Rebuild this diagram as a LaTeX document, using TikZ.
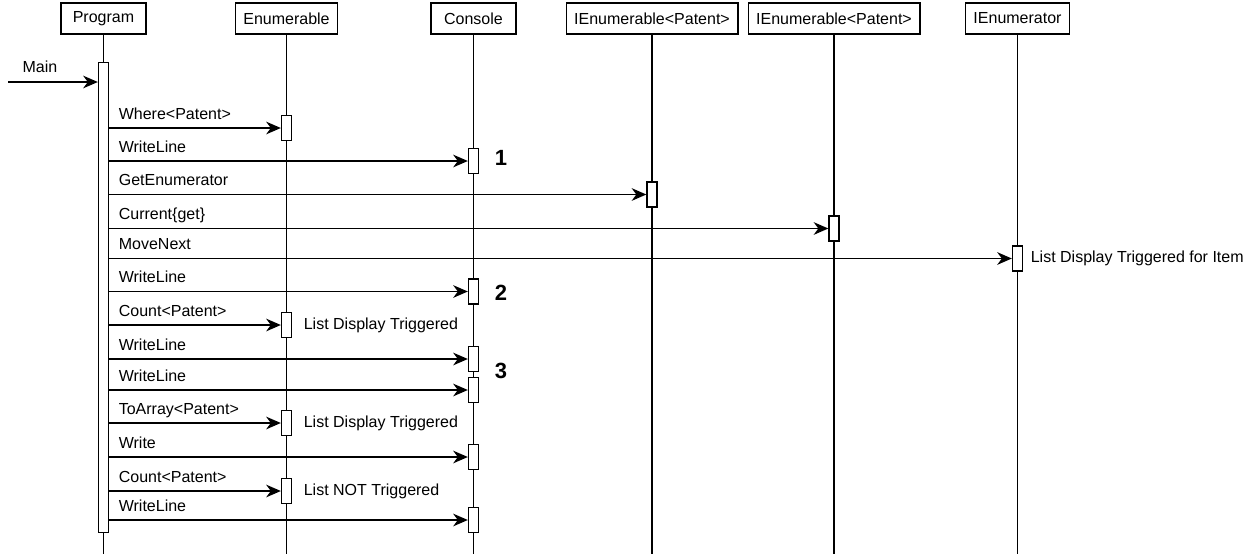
\documentclass[tikz,border=0pt]{standalone}
\usepackage{fontspec}
\setmainfont{Liberation Sans}
\usetikzlibrary{arrows.meta,positioning,calc}

\begin{document}
\begin{tikzpicture}[
      x=0.75pt,y=-0.75pt,line width=1pt,
      font=\fontsize{12}{14}\selectfont,
      head/.style={draw,fill=white,minimum width=63.75pt,minimum height=23.25pt,
                   inner xsep=6pt,inner ysep=0pt},
      act/.style={draw,fill=white,minimum width=7.5pt,minimum height=18.75pt,inner sep=0pt},
      life/.style={line width=1pt},
      msg/.style={-{Stealth[length=11pt,width=9.5pt,inset=3.5pt]}},
      lbl/.style={anchor=base west,inner sep=0pt,xshift=6.75pt,yshift=6.75pt},
      note/.style={inner sep=0pt},
      num/.style={inner sep=0pt,font=\fontsize{16.5}{18}\selectfont\bfseries}]
      \useasboundingbox (0,0) rectangle (1245,554);
      \coordinate (floor) at (0,554);
      \coordinate (mainin) at (8,82);
      % lifeline heads
      \node[head] (prog) at (103.5,18.5) {Program};
      \node[head] (enum) at (286.5,18.5) {Enumerable};
      \node[head] (cons) at (473.5,18.5) {Console};
      \node[head] (ienA) at (652,18.5) {IEnumerable<Patent>};
      \node[head] (ienB) at (834,18.5) {IEnumerable<Patent>};
      \node[head] (iter) at (1017.5,18.5) {IEnumerator};
      \draw[life] (prog.south) -- (prog.south |- floor); \draw[life] (enum.south) -- (enum.south |- floor);
      \draw[life] (cons.south) -- (cons.south |- floor); \draw[life] (ienA.south) -- (ienA.south |- floor);
      \draw[life] (ienB.south) -- (ienB.south |- floor); \draw[life] (iter.south) -- (iter.south |- floor);
      % activations
      \node[act,minimum height=352.5pt,anchor=north] (pact) at (103.5,62) {};
      \node[act] (a1) at (286.5,128) {};
      \node[act] (a2) at (473.5,161) {};
      \node[act] (a3) at (652,194.5) {};
      \node[act] (a4) at (834,228.5) {};
      \node[act] (a5) at (1017.5,258.5) {};
      \node[act] (a6) at (473.5,291.5) {};
      \node[act] (a7) at (286.5,325) {};
      \node[act] (a8) at (473.5,359) {};
      \node[act] (a9) at (473.5,390) {};
      \node[act] (a10) at (286.5,423) {};
      \node[act] (a11) at (473.5,457) {};
      \node[act] (a12) at (286.5,491) {};
      \node[act] (a13) at (473.5,520) {};
      % calls
      \draw[msg] (mainin) node[lbl,xshift=3.75pt,yshift=0.75pt] (tmain) {Main} -- (pact.west |- mainin);
      \draw[msg] (pact.east |- a1.west) node[lbl] (t1) {Where<Patent>} -- (a1.west);
      \draw[msg] (pact.east |- a2.west) node[lbl] (t2) {WriteLine} -- (a2.west);
      \draw[msg] (pact.east |- a3.west) node[lbl] (t3) {GetEnumerator} -- (a3.west);
      \draw[msg] (pact.east |- a4.west) node[lbl] (t4) {Current\{get\}} -- (a4.west);
      \draw[msg] (pact.east |- a5.west) node[lbl] (t5) {MoveNext} -- (a5.west);
      \draw[msg] (pact.east |- a6.west) node[lbl] (t6) {WriteLine} -- (a6.west);
      \draw[msg] (pact.east |- a7.west) node[lbl] (t7) {Count<Patent>} -- (a7.west);
      \draw[msg] (pact.east |- a8.west) node[lbl] (t8) {WriteLine} -- (a8.west);
      \draw[msg] (pact.east |- a9.west) node[lbl] (t9) {WriteLine} -- (a9.west);
      \draw[msg] (pact.east |- a10.west) node[lbl] (t10) {ToArray<Patent>} -- (a10.west);
      \draw[msg] (pact.east |- a11.west) node[lbl] (t11) {Write} -- (a11.west);
      \draw[msg] (pact.east |- a12.west) node[lbl] (t12) {Count<Patent>} -- (a12.west);
      \draw[msg] (pact.east |- a13.west) node[lbl] (t13) {WriteLine} -- (a13.west);
      % side notes
      \node[note,right=5.25pt of a5] (n5) {List Display Triggered for Item};
      \node[note,right=8.25pt of a7] (n7) {List Display Triggered};
      \node[note,right=8.25pt of a10] (n10) {List Display Triggered};
      \node[note,right=8.25pt of a12] (n12) {List NOT Triggered};
      \node[num,right=11.25pt of a2,yshift=2.6pt] (k1) {1};
      \node[num,right=11.25pt of a6,yshift=-0.75pt] (k2) {2};
      \node[num,anchor=west,xshift=11.25pt,yshift=2.6pt] (k3) at ($(a8.east)!.5!(a9.east)$) {3};
    \end{tikzpicture}
\end{document}
